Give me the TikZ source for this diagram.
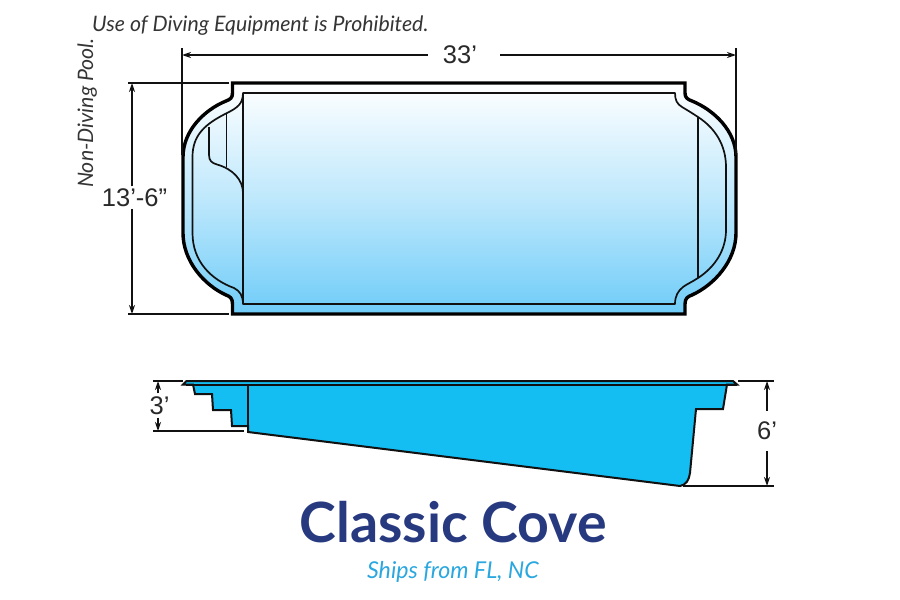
\documentclass[tikz,border=0pt]{standalone}
\usepackage{fontspec}
\setmainfont{Liberation Sans}
\newfontfamily\noteface{Lato}
\newfontfamily\titleface{Lato}[BoldFont={Lato Bold}]
\usetikzlibrary{arrows.meta}
\definecolor{planlow}{HTML}{6FCCF8}
\definecolor{sideblue}{HTML}{14BDF2}
\definecolor{titleblue}{HTML}{27397F}
\definecolor{shipblue}{HTML}{2AA7DF}
\definecolor{ink}{HTML}{111111}
\tikzset{
  dimline/.style={draw=ink,line width=1.7pt},
  dimarrow/.style={dimline,-{Stealth[length=9pt,width=6pt]}},
  dimtext/.style={font=\fontsize{25.5}{29}\selectfont,text=ink!90,inner sep=0pt},
  notetext/.style={font=\noteface\itshape\fontsize{21.3}{24}\selectfont,text=ink!85,inner sep=0pt},
  inner line/.style={draw=ink,line width=1.7pt,line join=round},
  outer line/.style={draw=black,line width=3.4pt,line join=miter},
  side line/.style={draw=ink,line width=2pt,line join=miter}
}
\begin{document}
\begin{tikzpicture}[x=1pt,y=-1pt]
\useasboundingbox (0,0) rectangle (900,600);
% plan: body
\def\outerpath{(232.5,83) -- (685,83) -- (685,93) .. controls (685,98) and (688,99.5) .. (692,101)
  .. controls (714,110) and (736,131) .. (736,157) -- (736,233)
  .. controls (736,261) and (714,285) .. (692,295) .. controls (688,296.5) and (685,298) .. (685,304)
  -- (685,314) -- (232.5,314) -- (232.5,304) .. controls (232.5,298) and (230,296.5) .. (226,295)
  .. controls (204,285) and (183,261) .. (183,233) -- (183,157)
  .. controls (183,131) and (204,110) .. (226,101) .. controls (230,99.5) and (232.5,98) .. (232.5,93) -- cycle}
\shade[top color=white,bottom color=planlow,middle color=planlow!45] \outerpath;
\path[outer line] \outerpath;
% plan: inner outline
\path[inner line] (243,93) -- (675,93) .. controls (675,100) and (677,104) .. (682,107)
  .. controls (687,110) and (692,113) .. (698,117) .. controls (715,128) and (726,145) .. (726,167)
  -- (726,230) .. controls (726,250) and (715,267) .. (698,278)
  .. controls (692,282) and (687,284) .. (683,287) .. controls (678,291) and (675,296) .. (675,304)
  -- (243,304) .. controls (243,296) and (240,291) .. (234,288)
  .. controls (212,280) and (192.5,262) .. (192.5,233) -- (192.5,157)
  .. controls (192.5,135) and (205,124) .. (227,113) .. controls (237,108) and (243,104) .. (243,93) -- cycle;
\path[inner line] (243,93) -- (243,304);
\path[inner line] (698,117) -- (698,278);
\path[inner line] (226.5,113) -- (226.5,167);
\path[inner line] (209,127) -- (209,155) .. controls (209,161) and (212,163) .. (217,164.5)
  .. controls (233,169) and (243,180) .. (243,193);
% side view
\path[fill=sideblue,side line] (186.5,381) -- (733,381) -- (737,384.5) -- (727,384.5) -- (723,409) -- (696,409)
  -- (690,473) .. controls (689,480) and (686,485) .. (680,486) -- (248,432) -- (248,426)
  -- (232,426) -- (231,410) -- (213,410) -- (212,394) -- (195,394) -- (193,384.5) -- (183,384.5) -- cycle;
\path[side line] (186,384.5) -- (737,384.5);
\path[side line] (248,384.5) -- (248,432);
% dimension anchors
\coordinate (wl) at (182,55); \coordinate (wr) at (736,55);
\coordinate (wlt) at (182,48); \coordinate (wlb) at (182,155);
\coordinate (wrt) at (736,48); \coordinate (wrb) at (736,155);
\coordinate (ht) at (132,83); \coordinate (hb) at (132,314);
\coordinate (htl) at (128,83); \coordinate (htr) at (229,83);
\coordinate (hbl) at (128,314); \coordinate (hbr) at (229,314);
\coordinate (st) at (158,381); \coordinate (sb) at (158,431);
\coordinate (stl) at (153,381); \coordinate (str) at (183,381);
\coordinate (sbl) at (153,431); \coordinate (sbr) at (244,431);
\coordinate (dt) at (767,381); \coordinate (db) at (767,486);
\coordinate (dtl) at (738,381); \coordinate (dtr) at (774,381);
\coordinate (dbl) at (683,486); \coordinate (dbr) at (774,486);
% texts
\node[dimtext] (width) at (460,55) {33’};
\node[dimtext] (height) at (134.5,197.5) {13’-6”};
\node[dimtext] (shallow) at (159.5,405.5) {3’};
\node[dimtext] (deep) at (767,431) {6’};
\node[notetext,anchor=base west] (use) at (92,31) {Use of Diving Equipment is Prohibited.};
\node[notetext,anchor=base west,rotate=90] (nondiving) at (93,188) {Non-Diving Pool.};
\node[font=\titleface\bfseries\fontsize{55.5}{60}\selectfont,text=titleblue,inner sep=0pt] (title) at (453,522) {Classic Cove};
\node[font=\noteface\itshape\fontsize{23.2}{26}\selectfont,text=shipblue,inner sep=0pt] (ships) at (453,571.5) {Ships from FL, NC};
% dimensions
\draw[dimline] (wlt) -- (wlb);
\draw[dimline] (wrt) -- (wrb);
\draw[dimarrow] (width.west) ++(-15,0) -- (wl);
\draw[dimarrow] (width.east) ++(23,0) -- (wr);
\draw[dimline] (htl) -- (htr);
\draw[dimline] (hbl) -- (hbr);
\draw[dimarrow] (height.north -| ht) ++(0,-2) -- (ht);
\draw[dimarrow] (height.south -| hb) ++(0,2) -- (hb);
\draw[dimline] (stl) -- (str);
\draw[dimline] (sbl) -- (sbr);
\draw[dimarrow] (shallow.north -| st) ++(0,-3) -- (st);
\draw[dimarrow] (shallow.south -| sb) ++(0,3) -- (sb);
\draw[dimline] (dtl) -- (dtr);
\draw[dimline] (dbl) -- (dbr);
\draw[dimarrow] (deep.north -| dt) ++(0,-11) -- (dt);
\draw[dimarrow] (deep.south -| db) ++(0,11) -- (db);
\end{tikzpicture}
\end{document}
